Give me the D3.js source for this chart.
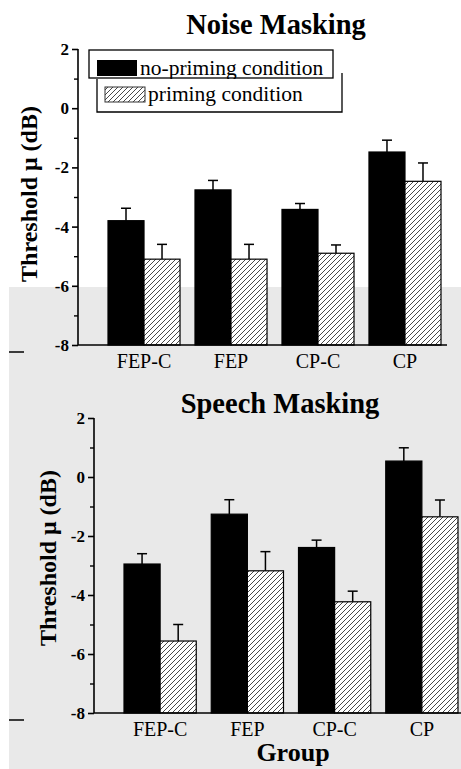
<!DOCTYPE html>
<html>
<head>
<meta charset="utf-8">
<script src="https://cdn.jsdelivr.net/npm/d3@7"></script>
<style>
  html, body { margin: 0; padding: 0; background: #ffffff; }
  svg { display: block; }
</style>
</head>
<body>
<div id="chart"></div>
<script>
// ---------------- data ----------------
const categories = ["FEP-C", "FEP", "CP-C", "CP"];
const seriesNames = ["no-priming condition", "priming condition"];

const noiseNoPriming     = [-3.80, -2.76, -3.42, -1.48];
const noiseNoPrimingErr  = [0.42, 0.32, 0.20, 0.40];
const noisePriming       = [-5.10, -5.10, -4.90, -2.47];
const noisePrimingErr    = [0.50, 0.50, 0.28, 0.62];

const speechNoPriming    = [-2.95, -1.26, -2.39, 0.54];
const speechNoPrimingErr = [0.35, 0.49, 0.25, 0.45];
const speechPriming      = [-5.56, -3.18, -4.23, -1.35];
const speechPrimingErr   = [0.56, 0.65, 0.36, 0.57];

const yTicks = [-8, -6, -4, -2, 0, 2];
const yMinorTicks = [-7, -5, -3, -1, 1];
const yDomain = [-8, 2];

// ---------------- drawing ----------------
const W = 461, H = 769;
const serif = "'Liberation Serif', 'DejaVu Serif', serif";

const svg = d3.select("#chart").append("svg")
  .attr("width", W).attr("height", H);

const defs = svg.append("defs");
const pat = defs.append("pattern")
  .attr("id", "hatch")
  .attr("patternUnits", "userSpaceOnUse")
  .attr("width", 5).attr("height", 5);
pat.append("rect").attr("width", 5).attr("height", 5).attr("fill", "#ffffff");
pat.append("path")
  .attr("d", "M-1,1 l2,-2 M0,5 l5,-5 M4,6 l2,-2")
  .attr("stroke", "#333").attr("stroke-width", 0.9);

// background (grey lower area of the scanned figure)
svg.append("rect").attr("x", 9).attr("y", 287).attr("width", W - 9).attr("height", H - 287)
  .attr("fill", "#e9e9e9");

function panel(cfg) {
  const g = svg.append("g");
  const y = d3.scaleLinear().domain(yDomain).range([cfg.yBottom, cfg.yTop]);
  const x = d3.scaleBand().domain(categories)
    .range([cfg.bandStart, cfg.bandEnd]).paddingInner(0.172).paddingOuter(0);
  const xs = d3.scaleBand().domain([0, 1]).range([0, x.bandwidth()]).padding(0);

  const data = [];
  categories.forEach((c, i) => {
    data.push({ cat: c, s: 0, v: cfg.a[i], e: cfg.ae[i] });
    data.push({ cat: c, s: 1, v: cfg.b[i], e: cfg.be[i] });
  });

  // error bars (upward only)
  const eb = g.append("g");
  data.forEach(d => {
    const cx = x(d.cat) + xs(d.s) + xs.bandwidth() / 2;
    eb.append("line").attr("x1", cx).attr("x2", cx)
      .attr("y1", y(d.v)).attr("y2", y(d.v + d.e))
      .attr("stroke", "#000").attr("stroke-width", 1.5);
    eb.append("line").attr("x1", cx - 5).attr("x2", cx + 5)
      .attr("y1", y(d.v + d.e)).attr("y2", y(d.v + d.e))
      .attr("stroke", "#000").attr("stroke-width", 1.5);
  });

  // bars
  g.append("g").selectAll("rect").data(data).join("rect")
    .attr("x", d => x(d.cat) + xs(d.s))
    .attr("width", xs.bandwidth())
    .attr("y", d => y(d.v))
    .attr("height", d => y(yDomain[0]) - y(d.v))
    .attr("fill", d => d.s === 0 ? "#000" : "url(#hatch)")
    .attr("stroke", "#000").attr("stroke-width", 1.2);

  // y axis
  const yAxis = d3.axisLeft(y).tickValues(yTicks).tickSize(6).tickFormat(d3.format("d"));
  const ya = g.append("g").attr("transform", `translate(${cfg.axisX},0)`).call(yAxis);
  ya.select(".domain").attr("stroke", "#000").attr("stroke-width", 1.6)
    .attr("d", `M0,${y(2)}V${y(-8)}`);
  ya.selectAll(".tick line").attr("stroke", "#000").attr("stroke-width", 1.6);
  ya.selectAll(".tick text")
    .attr("font-family", serif).attr("font-weight", "bold").attr("font-size", 17)
    .attr("fill", "#000").attr("x", -9)
    .text(d => d < 0 ? "-" + Math.abs(d) : d);
  const yMinor = d3.axisLeft(y).tickValues(yMinorTicks).tickSize(4).tickFormat("");
  const ym = g.append("g").attr("transform", `translate(${cfg.axisX},0)`).call(yMinor);
  ym.select(".domain").remove();
  ym.selectAll(".tick line").attr("stroke", "#000").attr("stroke-width", 1.4);

  // x axis baseline
  g.append("line").attr("x1", cfg.axisX).attr("x2", cfg.xAxisEnd)
    .attr("y1", y(-8)).attr("y2", y(-8))
    .attr("stroke", "#000").attr("stroke-width", 1.6);

  const xAxis = d3.axisBottom(x).tickSize(0).tickPadding(0);
  const xa = g.append("g").attr("transform", `translate(0,${y(-8) + 23})`).call(xAxis);
  xa.select(".domain").remove();
  xa.selectAll(".tick text").attr("font-family", serif).attr("font-size", 20)
    .attr("fill", "#000").attr("dy", 0);

  // title
  g.append("text").attr("x", cfg.titleX).attr("y", cfg.titleY)
    .attr("text-anchor", "middle").attr("font-family", serif)
    .attr("font-weight", "bold").attr("font-size", 28.5).attr("fill", "#000")
    .text(cfg.title);

  // y label
  g.append("text")
    .attr("transform", `translate(${cfg.ylabX},${cfg.ylabY}) rotate(-90)`)
    .attr("text-anchor", "middle").attr("font-family", serif)
    .attr("font-weight", "bold").attr("font-size", 24).attr("fill", "#000")
    .text("Threshold μ (dB)");

  // small dash at left margin
  g.append("line").attr("x1", 9).attr("x2", 24)
    .attr("y1", y(-8) + 7).attr("y2", y(-8) + 7)
    .attr("stroke", "#000").attr("stroke-width", 1.5);

  return { g, x, y };
}

// Noise Masking panel
const noisePanel = panel({
  title: "Noise Masking", titleX: 276, titleY: 34,
  yTop: 49, yBottom: 345, axisX: 78, bandStart: 108, bandEnd: 441, xAxisEnd: 447,
  a: noiseNoPriming, ae: noiseNoPrimingErr, b: noisePriming, be: noisePrimingErr,
  ylabX: 37, ylabY: 194
});

// Speech Masking panel
const speechPanel = panel({
  title: "Speech Masking", titleX: 280, titleY: 413,
  yTop: 418, yBottom: 713, axisX: 94, bandStart: 124, bandEnd: 458, xAxisEnd: 461,
  a: speechNoPriming, ae: speechNoPrimingErr, b: speechPriming, be: speechPrimingErr,
  ylabX: 56, ylabY: 558
});

// x title
svg.append("text").attr("x", 293).attr("y", 761)
  .attr("text-anchor", "middle").attr("font-family", serif)
  .attr("font-weight", "bold").attr("font-size", 26).attr("fill", "#000")
  .text("Group");

// legend (two stacked boxes, as in the original)
const lg = svg.append("g");
lg.append("rect").attr("x", 89).attr("y", 50).attr("width", 244).attr("height", 28)
  .attr("fill", "#fff").attr("stroke", "#000").attr("stroke-width", 1.3);
lg.append("rect").attr("x", 97).attr("y", 60).attr("width", 40).attr("height", 16)
  .attr("fill", "#000");
lg.append("text").attr("x", 140).attr("y", 75).attr("font-family", serif)
  .attr("font-size", 21.5).attr("fill", "#000").text(seriesNames[0]);
lg.append("rect").attr("x", 97).attr("y", 79).attr("width", 245).attr("height", 33)
  .attr("fill", "#fff").attr("stroke", "none");
lg.append("path").attr("d", "M97,79 V112 H342 V73")
  .attr("fill", "none").attr("stroke", "#000").attr("stroke-width", 1.3);
lg.append("rect").attr("x", 105).attr("y", 87).attr("width", 40).attr("height", 15)
  .attr("fill", "url(#hatch)").attr("stroke", "#333").attr("stroke-width", 1);
lg.append("text").attr("x", 148).attr("y", 101).attr("font-family", serif)
  .attr("font-size", 21.5).attr("fill", "#000").text(seriesNames[1]);
</script>
</body>
</html>
